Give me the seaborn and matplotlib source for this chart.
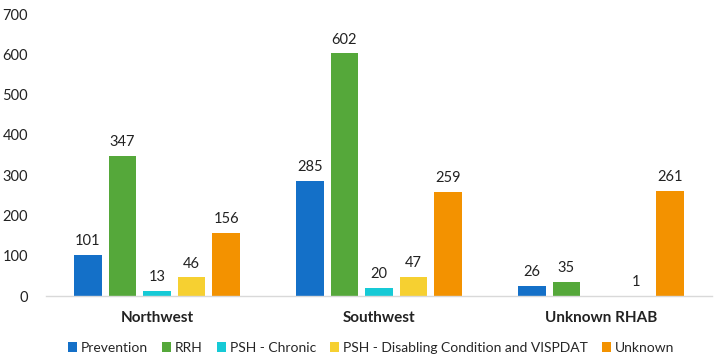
import numpy as np
import pandas as pd
import matplotlib
matplotlib.use("Agg")
import matplotlib.pyplot as plt
import seaborn as sns

regions = ["Northwest", "Southwest", "Unknown RHAB"]
series = ["Prevention", "RRH", "PSH - Chronic",
          "PSH - Disabling Condition and VISPDAT", "Unknown"]
prevention = [101, 285, 26]
rrh = [347, 602, 35]
psh_chronic = [13, 20, np.nan]
psh_disabling = [46, 47, 1]
unknown = [156, 259, 261]
y_ticks = [0, 100, 200, 300, 400, 500, 600, 700]

colors = ["#1470C8", "#55A83A", "#16CAD6", "#F6D031", "#F39200"]

values = [prevention, rrh, psh_chronic, psh_disabling, unknown]
df = pd.DataFrame(
    [(r, s, v) for s, vals in zip(series, values) for r, v in zip(regions, vals)],
    columns=["region", "series", "count"],
)

sns.set_theme(style="white")
plt.rcParams["font.family"] = ["Lato", "DejaVu Sans"]

fig = plt.figure(figsize=(7.14, 3.56), dpi=100)
ax = fig.add_axes([46 / 714, 1 - 296 / 356, 666 / 714, (296 - 14) / 356])

sns.barplot(data=df, x="region", y="count", hue="series", order=regions,
            hue_order=series, palette=colors, width=0.78, gap=0.2,
            linewidth=0, saturation=1, errorbar=None, ax=ax, legend=True)

for cont in ax.containers:
    labels = ["" if not np.isfinite(v) else f"{v:.0f}" for v in cont.datavalues]
    ax.bar_label(cont, labels=labels, padding=5, fontsize=10.5, color="#222222")

ax.set_ylim(0, 700)
ax.set_yticks(y_ticks)
ax.set_yticklabels([str(t) for t in y_ticks], fontsize=10.5, color="#222222")
ax.tick_params(axis="y", length=0, pad=13)
ax.tick_params(axis="x", length=0, pad=11)
ax.set_xticks(range(len(regions)))
ax.set_xticklabels(regions, fontsize=11, fontweight="bold", color="#222222")
ax.set_xlabel("")
ax.set_ylabel("")

for side in ["top", "right", "left"]:
    ax.spines[side].set_visible(False)
ax.spines["bottom"].set_color("#D9D9D9")
ax.spines["bottom"].set_linewidth(1)

handles, labs = ax.get_legend_handles_labels()
ax.legend_.remove()
fig.legend(handles, labs, loc="center", bbox_to_anchor=(371 / 714, 1 - 348 / 356),
           ncol=5, frameon=False, fontsize=10, handlelength=0.65, handleheight=0.65,
           handletextpad=0.3, columnspacing=1.0, borderaxespad=0)

fig.savefig("out.png", dpi=100)
